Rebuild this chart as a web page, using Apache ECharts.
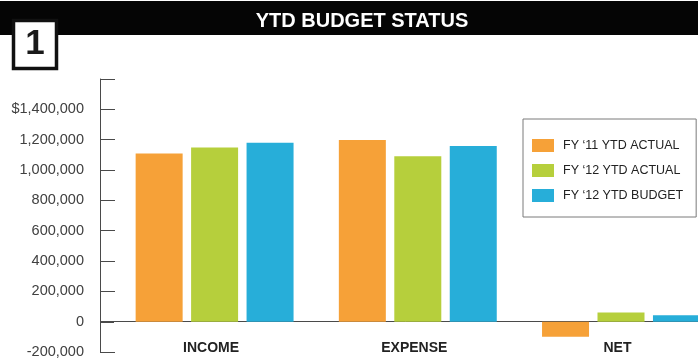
<!DOCTYPE html>
<html>
<head>
<meta charset="utf-8">
<title>YTD Budget Status</title>
<script src="https://cdn.jsdelivr.net/npm/echarts@6/dist/echarts.min.js"></script>
<style>
  html, body { margin: 0; padding: 0; background: #ffffff; }
  #chart { width: 698px; height: 363px; }
</style>
</head>
<body>
<div id="chart"></div>
<script>
// Year-to-date budget status, in dollars
const categories = ['INCOME', 'EXPENSE', 'NET'];
const seriesNames = ['FY \u201811 YTD ACTUAL', 'FY \u201812 YTD ACTUAL', 'FY \u201812 YTD BUDGET'];
const fy11Actual = [1109000, 1197000, -100000];
const fy12Actual = [1149000, 1091000, 61000];
const fy12Budget = [1179000, 1159000, 43000];
const seriesColors = ['#F6A138', '#B6CF3C', '#27AED9'];

// value axis range and step
const yMin = -200000;
const yMax = 1600000;
const yStep = 200000;

const chart = echarts.init(document.getElementById('chart'), null, { renderer: 'canvas' });

const FONT = '"Liberation Sans", Arial, sans-serif';
const AXIS_COLOR = '#4a4a4a';
const AXIS_OFFSET = 13;

function yLabel(v) {
  if (v === yMax) return '';
  const s = Math.abs(v).toLocaleString('en-US');
  if (v === 1400000) return '$' + s;
  return (v < 0 ? '-' : '') + s;
}

const seriesValues = [fy11Actual, fy12Actual, fy12Budget];

chart.setOption({
  animation: false,
  backgroundColor: '#ffffff',
  grid: {
    left: 113, top: 79, width: 609.6, height: 273,
    containLabel: false,
    outerBoundsMode: 'none'
  },
  legend: {
    orient: 'vertical',
    left: 523,
    top: 119,
    padding: [20, 13, 15, 9],
    itemGap: 12,
    itemWidth: 22,
    itemHeight: 13,
    icon: 'rect',
    borderColor: '#7a7a7a',
    borderWidth: 1,
    textStyle: { fontFamily: FONT, fontSize: 12.5, color: '#222', padding: [0, 0, 0, 4] },
    data: seriesNames
  },
  xAxis: [
    {
      // zero baseline
      type: 'category',
      data: categories,
      axisLine: { onZero: true, lineStyle: { color: AXIS_COLOR, width: 1 } },
      axisTick: { show: false },
      axisLabel: { show: false },
      splitLine: { show: false }
    },
    {
      // category names under the baseline
      type: 'category',
      data: categories,
      position: 'bottom',
      axisLine: { show: false, onZero: false },
      axisTick: { show: false },
      axisLabel: {
        interval: 0,
        hideOverlap: false,
        margin: -11,
        padding: [0, 7, 0, 0],
        fontFamily: FONT,
        fontWeight: 'bold',
        fontSize: 14,
        color: '#222'
      },
      splitLine: { show: false }
    }
  ],
  yAxis: {
    type: 'value',
    min: yMin,
    max: yMax,
    interval: yStep,
    offset: AXIS_OFFSET,
    axisLine: { show: true, lineStyle: { color: AXIS_COLOR, width: 1 } },
    axisTick: { show: true, inside: true, length: 15, lineStyle: { color: AXIS_COLOR, width: 1 } },
    axisLabel: {
      margin: 16,
      fontFamily: FONT,
      fontSize: 14.5,
      color: '#404040',
      formatter: yLabel
    },
    splitLine: { show: false }
  },
  series: seriesNames.map((name, i) => ({
    name: name,
    type: 'bar',
    xAxisIndex: 0,
    data: seriesValues[i],
    barWidth: 47,
    barGap: '18%',
    itemStyle: { color: seriesColors[i] }
  })),
  graphic: [
    // black heading band
    {
      type: 'rect', z: 10,
      shape: { x: 0, y: 1, width: 698, height: 34 },
      style: { fill: '#050505' }
    },
    {
      type: 'text', z: 11,
      x: 362, y: 21,
      style: {
        text: 'YTD BUDGET STATUS',
        fill: '#ffffff',
        fontFamily: FONT,
        fontWeight: 'bold',
        fontSize: 20,
        align: 'center',
        verticalAlign: 'middle'
      }
    },
    // section number box
    {
      type: 'rect', z: 12,
      shape: { x: 13.5, y: 20.5, width: 43, height: 48 },
      style: { fill: '#ffffff', stroke: '#111111', lineWidth: 3.5 }
    },
    {
      type: 'text', z: 13,
      x: 35, y: 44,
      style: {
        text: '1',
        fill: '#1a1a1a',
        fontFamily: FONT,
        fontWeight: 'bold',
        fontSize: 35,
        align: 'center',
        verticalAlign: 'middle'
      }
    }
  ]
});

// extend the zero baseline back to the offset value-axis line
(function () {
  const zeroY = chart.convertToPixel({ yAxisIndex: 0 }, 0);
  const gridRect = chart.getModel().getComponent('grid', 0).coordinateSystem.getRect();
  const axisX = gridRect.x - AXIS_OFFSET;
  chart.setOption({
    graphic: [
      {}, {}, {}, {},
      {
        type: 'line', z: 5,
        shape: { x1: axisX, y1: Math.round(zeroY) + 0.5, x2: gridRect.x + 1, y2: Math.round(zeroY) + 0.5 },
        style: { stroke: AXIS_COLOR, lineWidth: 1 }
      }
    ]
  });
})();
</script>
</body>
</html>
